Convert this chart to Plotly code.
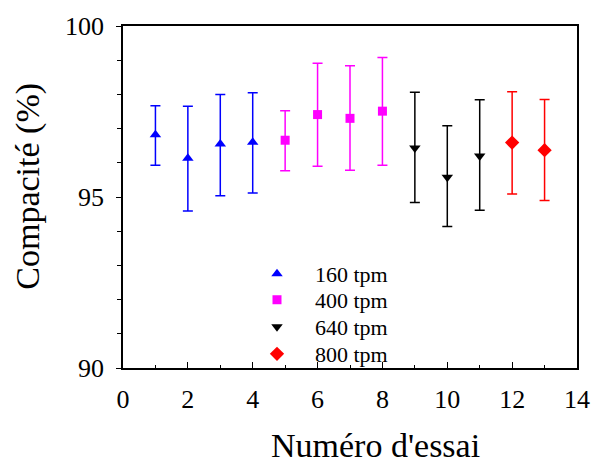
import plotly.graph_objects as go

# Data
trial = [1, 2, 3, 4, 5, 6, 7, 8, 9, 10, 11, 12, 13]
compacite = [96.82, 96.13, 96.55, 96.60, 96.66, 97.41, 97.30, 97.51, 96.43, 95.58, 96.20, 96.59, 96.37]
upper = [97.67, 97.65, 98.00, 98.05, 97.52, 98.91, 98.84, 99.08, 98.06, 97.08, 97.84, 98.08, 97.85]
lower = [95.93, 94.59, 95.04, 95.12, 95.77, 95.90, 95.78, 95.93, 94.84, 94.14, 94.61, 95.09, 94.90]

groups = ["160 tpm", "400 tpm", "640 tpm", "800 tpm"]
group_idx = [[0, 1, 2, 3], [4, 5, 6, 7], [8, 9, 10], [11, 12]]
colors = ["#0000FF", "#FF00FF", "#000000", "#FF0000"]
symbols = ["triangle-up", "square", "triangle-down", "diamond"]
sizes = [10, 9, 10, 11]

x_ticks = [0, 2, 4, 6, 8, 10, 12, 14]
y_ticks = [90, 95, 100]

x_title = "Numéro d'essai"
y_title = "Compacité (%)"

legend_names = ["legend", "legend2", "legend3", "legend4"]
legend_y = [0.275, 0.199, 0.120, 0.041]

fig = go.Figure()
for name, idx, c, s, sz, lg in zip(groups, group_idx, colors, symbols, sizes, legend_names):
    xs = [trial[i] for i in idx]
    ys = [compacite[i] for i in idx]
    up = [upper[i] - compacite[i] for i in idx]
    dn = [compacite[i] - lower[i] for i in idx]
    fig.add_trace(go.Scatter(
        x=xs, y=ys, mode="markers", name=name, legend=lg,
        marker=dict(symbol=s, size=sz, color=c, line=dict(width=0)),
        error_y=dict(type="data", symmetric=False, array=up, arrayminus=dn,
                     color=c, thickness=1.5, width=5),
    ))

serif = "Liberation Serif, Times New Roman, serif"
legend_style = dict(x=0.2555, xanchor="left", yanchor="middle",
                    bgcolor="rgba(0,0,0,0)", font=dict(size=22, family=serif),
                    itemwidth=66)
layout_legends = {lg: dict(legend_style, y=yy) for lg, yy in zip(legend_names, legend_y)}

fig.update_layout(
    width=592, height=463,
    margin=dict(l=123, r=15, t=26, b=95),
    paper_bgcolor="white", plot_bgcolor="white",
    font=dict(family=serif, color="black"),
    showlegend=True,
    **layout_legends,
    xaxis=dict(
        range=[0, 14], tickvals=x_ticks, ticks="inside", ticklen=6,
        tickwidth=1, tickcolor="black", ticklabelstandoff=7,
        minor=dict(dtick=1, ticks="inside", ticklen=3, tickcolor="black"),
        showline=True, linecolor="black", linewidth=1.5, mirror=True,
        showgrid=False, zeroline=False, automargin=False,
        tickfont=dict(size=26, family=serif),
    ),
    yaxis=dict(
        range=[90, 100], tickvals=y_ticks, ticks="outside", ticklen=5,
        tickwidth=1, tickcolor="black", ticklabelstandoff=7,
        minor=dict(dtick=1, ticks="outside", ticklen=4, tickcolor="black"),
        showline=True, linecolor="black", linewidth=1.5, mirror=True,
        showgrid=False, zeroline=False, automargin=False,
        tickfont=dict(size=26, family=serif),
    ),
    annotations=[
        dict(text=x_title, xref="paper", yref="paper", x=0.557, y=-0.226,
             xanchor="center", yanchor="middle", showarrow=False,
             font=dict(size=34, family=serif, color="black")),
        dict(text=y_title, xref="paper", yref="paper", x=-0.21, y=0.532,
             xanchor="center", yanchor="middle", showarrow=False, textangle=-90,
             font=dict(size=34, family=serif, color="black")),
    ],
)

fig.write_html("out.html", config={"displayModeBar": False},
               post_script="document.body.style.margin='0';")
